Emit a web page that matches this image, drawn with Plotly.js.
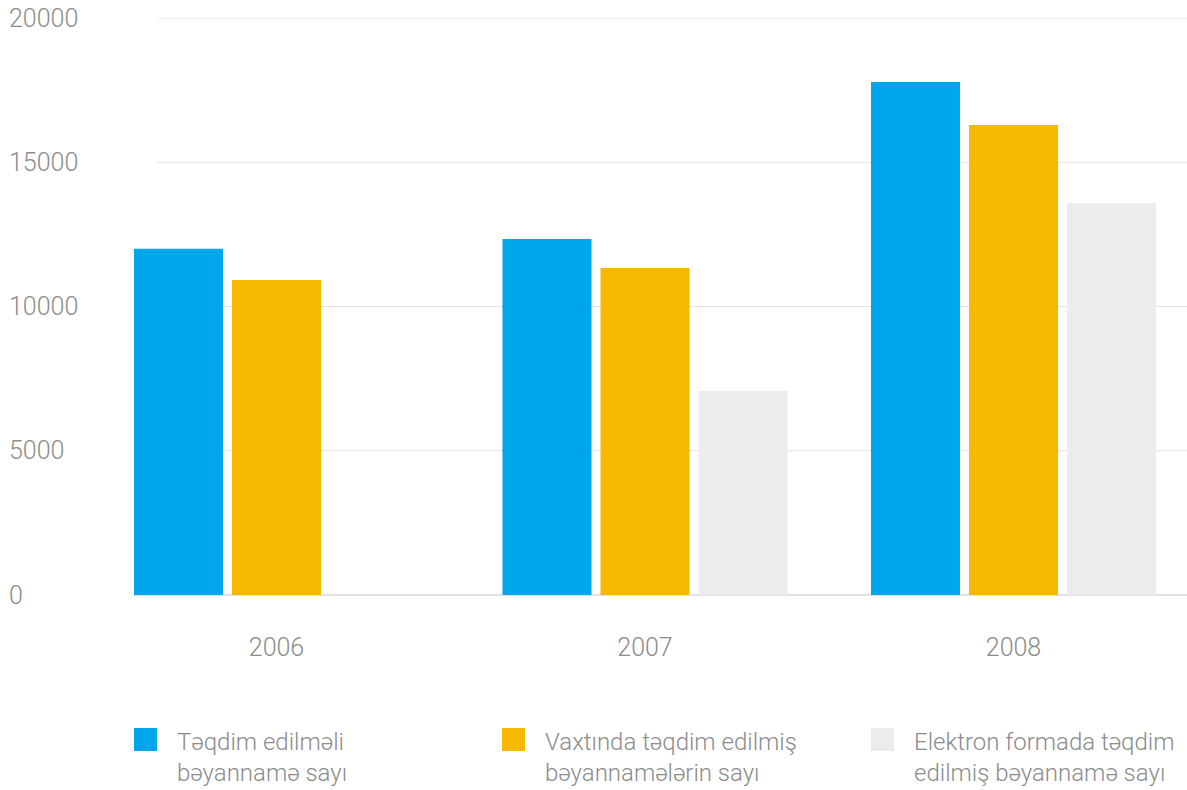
<!DOCTYPE html>
<html>
<head>
<meta charset="utf-8">
<script src="https://cdn.plot.ly/plotly-3.0.1.min.js"></script>
<style>html,body{margin:0;padding:0;background:#fff;}#chart{width:1187px;height:790px;}</style>
</head>
<body>
<div id="chart"></div>
<script>
const years = ['2006', '2007', '2008'];
const seriesNames = [
  'Təqdim edilməli<br>bəyannamə sayı',
  'Vaxtında təqdim edilmiş<br>bəyannamələrin sayı',
  'Elektron formada təqdim<br>edilmiş bəyannamə sayı'
];
const required = [12000, 12340, 17780];
const onTime = [10920, 11335, 16290];
const electronic = [null, 7070, 13590];
const yTicks = [0, 5000, 10000, 15000, 20000];
const colors = ['#00a6eb', '#f7b800', '#ebecee'];

const W = 1187, H = 790;
const L = 134, R = 0, T = 18, B = 195;
const pw = W - L - R, ph = H - T - B;
const px = x => (x - L) / pw;
const py = y => (H - B - y) / ph;

const textFont = {family: 'Roboto, "Open Sans", sans-serif', size: 24, color: '#8c8c8c', weight: 300};
const tickFont = Object.assign({}, textFont, {size: 25});

const traces = [required, onTime, electronic].map((vals, i) => ({
  type: 'bar', x: years, y: vals, name: seriesNames[i].replace('<br>', ' '),
  marker: {color: colors[i], line: {width: 0}},
  hoverinfo: 'y', showlegend: false
}));

const shapes = yTicks.filter(v => v > 0).map(v => ({
  type: 'line', xref: 'paper', yref: 'y', x0: px(157), x1: 1, y0: v, y1: v,
  line: {color: '#e2e2e2', width: 1}, layer: 'below'
}));
const annotations = yTicks.map(v => ({
  xref: 'paper', yref: 'y', x: px(7), y: v, text: String(v), showarrow: false,
  xanchor: 'left', yanchor: 'middle', font: tickFont
}));
const legendLeft = [134, 502, 871];
seriesNames.forEach((n, i) => {
  shapes.push({type: 'rect', xref: 'paper', yref: 'paper',
    x0: px(legendLeft[i]), x1: px(legendLeft[i] + 23), y0: py(728), y1: py(751),
    fillcolor: colors[i], line: {width: 0}});
  annotations.push({xref: 'paper', yref: 'paper', x: px(legendLeft[i] + 41), y: py(726),
    text: n, showarrow: false, xanchor: 'left', yanchor: 'top', align: 'left', font: textFont});
});

const layout = {
  width: W, height: H,
  margin: {l: L, r: R, t: T, b: B, pad: 0},
  paper_bgcolor: '#fff', plot_bgcolor: '#fff',
  barmode: 'group', bargap: 0.202, bargroupgap: 0.092,
  showlegend: false,
  xaxis: {
    type: 'category', range: [-(276.5 - 134) / 368.5, (1187 - 276.5) / 368.5],
    showgrid: false, zeroline: false, showline: false, ticks: '',
    tickfont: tickFont, ticklabelstandoff: 35, fixedrange: true
  },
  yaxis: {
    range: [0, 20000], showgrid: false, showticklabels: false, ticks: '',
    zeroline: true, zerolinecolor: '#e2e2e2', zerolinewidth: 2, showline: false, fixedrange: true
  },
  shapes: shapes, annotations: annotations
};

Plotly.newPlot('chart', traces, layout, {displayModeBar: false, staticPlot: true});
</script>
</body>
</html>
